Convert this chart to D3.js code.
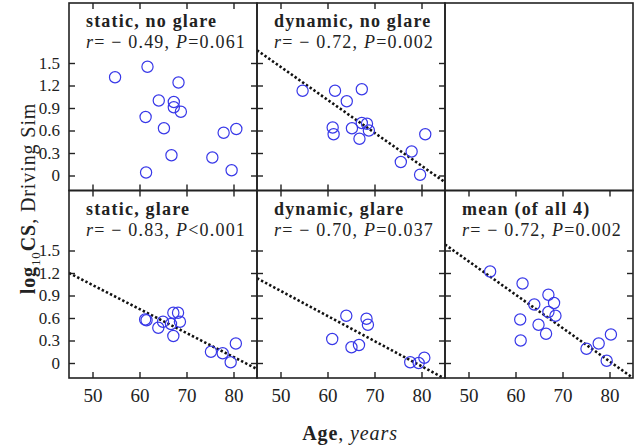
<!DOCTYPE html>
<html>
<head>
<meta charset="utf-8">
<script src="https://cdn.jsdelivr.net/npm/d3@7"></script>
<style>
  body { margin: 0; background: #fff; }
  text { font-family: "Liberation Serif", "DejaVu Serif", serif; fill: #222; }
</style>
</head>
<body>
<div id="chart"></div>
<script>
// panel names and stats, in grid order (row by row, the empty one is null)
const panelTitles = ["static, no glare", "dynamic, no glare", null, "static, glare", "dynamic, glare", "mean (of all 4)"];
const rValues = [-0.49, -0.72, null, -0.83, -0.70, -0.72];
const pValues = ["=0.061", "=0.002", null, "<0.001", "=0.037", "=0.002"];

const xTicks = [50, 60, 70, 80];
const yTicks = [0, 0.3, 0.6, 0.9, 1.2, 1.5];

// [age, log10 CS]
const staticNoGlare = [[54.8,1.31],[61.7,1.45],[68.3,1.24],[64.1,1.00],[67.3,0.98],[67.3,0.91],[68.8,0.85],
  [61.3,0.78],[65.2,0.63],[66.8,0.27],[61.4,0.04],[75.5,0.24],[77.9,0.57],[80.6,0.62],[79.6,0.07]];
const dynamicNoGlare = [[54.7,1.13],[61.6,1.13],[67.3,1.15],[64.1,0.99],[61.1,0.64],[61.3,0.55],[65.2,0.63],
  [67.3,0.70],[68.4,0.69],[68.8,0.60],[66.8,0.49],[75.6,0.18],[77.9,0.32],[80.8,0.55],[79.7,0.01]];
const staticGlare = [[61.2,0.58],[61.5,0.57],[64.0,0.47],[65.0,0.55],[66.7,0.52],[67.2,0.67],[68.2,0.67],
  [68.6,0.55],[67.2,0.36],[75.2,0.15],[77.7,0.13],[80.5,0.26],[79.4,0.01]];
const dynamicGlare = [[64.0,0.63],[61.0,0.32],[65.1,0.21],[66.7,0.24],[68.3,0.59],[68.6,0.51],
  [77.6,0.01],[79.4,0.00],[80.6,0.07]];
const meanOfAll = [[54.6,1.22],[61.5,1.06],[67.0,0.91],[64.0,0.78],[68.2,0.80],[67.0,0.68],[68.5,0.63],
  [61.0,0.58],[64.9,0.51],[66.5,0.39],[61.1,0.30],[75.1,0.19],[77.7,0.26],[80.3,0.38],[79.4,0.03]];
const panelData = [staticNoGlare, dynamicNoGlare, null, staticGlare, dynamicGlare, meanOfAll];

// regression line value at age 45 and at age 85
const fitLines = [null, [1.67, -0.09], null, [1.20, -0.08], [1.13, -0.21], [1.58, -0.20]];

const W = 636, H = 446;
const gridLeft = 69, gridTop = 3, cellW = 188, cellH = 187.5;

const svg = d3.select("#chart").append("svg")
  .attr("width", W).attr("height", H);

const x = d3.scaleLinear().domain([45, 85]).range([0, cellW]);
const y = d3.scaleLinear().domain([-0.2, 2.3]).range([cellH, 0]);

panelTitles.forEach((title, i) => {
  const col = i % 3, row = Math.floor(i / 3);
  const g = svg.append("g").attr("transform", `translate(${gridLeft + col * cellW},${gridTop + row * cellH})`);

  g.append("clipPath").attr("id", "clip" + i)
    .append("rect").attr("width", cellW).attr("height", cellH);

  if (panelData[i]) {
    // ticks on all four sides, pointing in
    const bottomAx = d3.axisBottom(x).tickValues(xTicks).tickSizeInner(-6).tickSizeOuter(0).tickPadding(11)
      .tickFormat(row === 1 ? d3.format("d") : "");
    const topAx = d3.axisTop(x).tickValues(xTicks).tickSizeInner(-6).tickSizeOuter(0).tickFormat("");
    const leftAx = d3.axisLeft(y).tickValues(yTicks).tickSizeInner(-6).tickSizeOuter(0).tickPadding(9)
      .tickFormat(col === 0 ? d3.format("~g") : "");
    const rightAx = d3.axisRight(y).tickValues(yTicks).tickSizeInner(-6).tickSizeOuter(0).tickFormat("");

    [[bottomAx, `translate(0,${cellH})`, 19], [topAx, "translate(0,0)", 19],
     [leftAx, "translate(0,0)", 17], [rightAx, `translate(${cellW},0)`, 17]].forEach(([ax, tr, fs]) => {
      const a = g.append("g").attr("transform", tr).call(ax)
        .attr("font-family", null);
      a.select(".domain").remove();
      a.selectAll(".tick line").attr("stroke", "#222").attr("stroke-width", 1.4);
      a.selectAll(".tick text").attr("fill", "#222").attr("font-size", fs);
    });

    if (fitLines[i]) {
      const f = fitLines[i];
      g.append("line")
        .attr("clip-path", `url(#clip${i})`)
        .attr("x1", x(45)).attr("y1", y(f[0]))
        .attr("x2", x(85)).attr("y2", y(f[1]))
        .attr("stroke", "#111").attr("stroke-width", 2.6)
        .attr("stroke-dasharray", "2.4,2.2");
    }

    g.append("g").selectAll("circle")
      .data(panelData[i])
      .join("circle")
      .attr("cx", d => x(d[0]))
      .attr("cy", d => y(d[1]))
      .attr("r", 5.6)
      .attr("fill", "none")
      .attr("stroke", "#3838e8")
      .attr("stroke-width", 1.2);

    const t1 = g.append("text").attr("y", 24)
      .attr("font-size", 18).attr("font-weight", "bold").attr("letter-spacing", 1.2)
      .text(title);
    const t2 = g.append("text").attr("y", 45).attr("font-size", 18).attr("letter-spacing", 1.2);
    t2.append("tspan").attr("font-style", "italic").text("r");
    t2.append("tspan").text("= \u2212 " + Math.abs(rValues[i]).toFixed(2) + ", ");
    t2.append("tspan").attr("font-style", "italic").text("P");
    t2.append("tspan").text(pValues[i]);

    const wMax = Math.max(t1.node().getComputedTextLength(), t2.node().getComputedTextLength());
    t1.attr("x", cellW / 2 - wMax / 2 + 3);
    t2.attr("x", cellW / 2 - wMax / 2 + 3);
  }

  g.append("rect").attr("width", cellW).attr("height", cellH)
    .attr("fill", "none").attr("stroke", "#222").attr("stroke-width", 1.6);
});

// axis titles
const yTitle = svg.append("text")
  .attr("transform", `translate(35,${gridTop + cellH + 8}) rotate(-90)`)
  .attr("text-anchor", "middle").attr("font-size", 20).attr("letter-spacing", 0.9);
yTitle.append("tspan").attr("font-weight", "bold").text("log");
yTitle.append("tspan").attr("font-size", 13).attr("dy", 5).text("10");
yTitle.append("tspan").attr("font-weight", "bold").attr("dy", -5).text("CS");
yTitle.append("tspan").text(", Driving Sim");

const xTitle = svg.append("text")
  .attr("x", gridLeft + cellW * 1.5 - 1).attr("y", 440)
  .attr("text-anchor", "middle").attr("font-size", 20).attr("letter-spacing", 0.9);
xTitle.append("tspan").attr("font-weight", "bold").text("Age");
xTitle.append("tspan").text(", ");
xTitle.append("tspan").attr("font-style", "italic").text("years");
</script>
</body>
</html>
